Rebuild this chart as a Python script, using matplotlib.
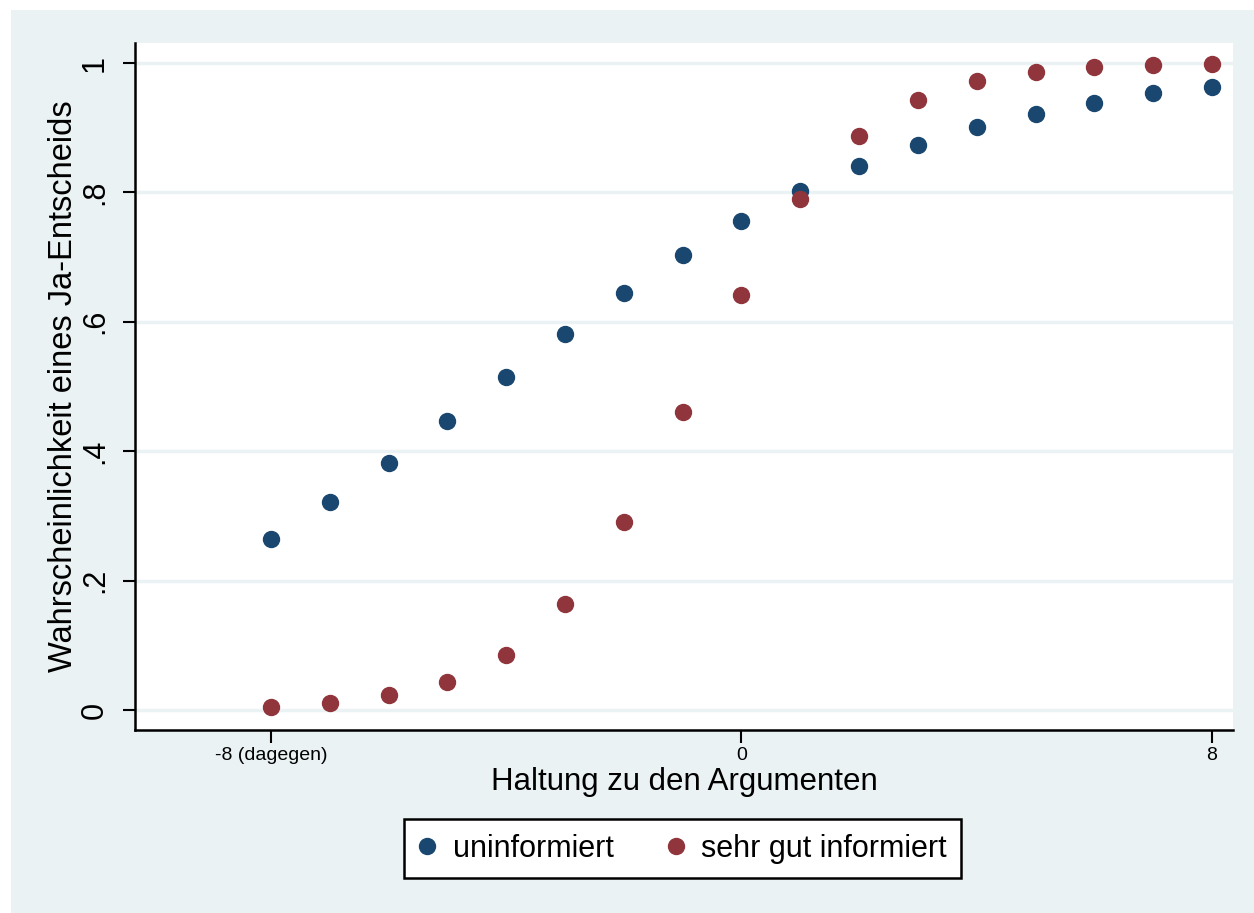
import matplotlib
matplotlib.use('Agg')
import matplotlib.pyplot as plt
from matplotlib.patches import Rectangle

plt.rcParams['font.family'] = ['Liberation Sans', 'DejaVu Sans']

haltung = list(range(-8, 9))
uninformiert = [0.264, 0.321, 0.382, 0.447, 0.515, 0.581, 0.645, 0.703, 0.756,
                0.802, 0.841, 0.873, 0.901, 0.921, 0.938, 0.954, 0.963]
gut_informiert = [0.005, 0.011, 0.023, 0.043, 0.085, 0.164, 0.291, 0.461, 0.641,
                  0.790, 0.887, 0.943, 0.972, 0.986, 0.994, 0.997, 0.998]
labels = ['uninformiert', 'sehr gut informiert']
x_ticks = [-8, 0, 8]
x_ticklabels = ['-8 (dagegen)', '0', '8']
y_ticks = [0, 0.2, 0.4, 0.6, 0.8, 1]
y_ticklabels = ['0', '.2', '.4', '.6', '.8', '1']

bg = '#EAF2F3'
blue = '#1A476F'
red = '#90353B'

fig = plt.figure(figsize=(12.54, 9.13), dpi=100)
fig.patches.append(Rectangle((11 / 1254, 0), 1, 1 - 10 / 913, transform=fig.transFigure,
                             facecolor=bg, edgecolor='none', zorder=-10))

ax = fig.add_axes([135 / 1254, 1 - 730 / 913, (1233 - 135) / 1254, (730 - 43) / 913])
ax.set_facecolor('white')

ax.plot(haltung, uninformiert, 'o', color=blue, markersize=11.5, label=labels[0], zorder=3)
ax.plot(haltung, gut_informiert, 'o', color=red, markersize=11.5, label=labels[1], zorder=3)

ax.set_xlim(-10.31, 8.357)
ax.set_ylim(-0.031, 1.031)

ax.set_xticks(x_ticks)
ax.set_xticklabels(x_ticklabels, fontsize=14)
ax.set_yticks(y_ticks)
ax.set_yticklabels(y_ticklabels, fontsize=22, rotation=90, va='center')
ax.tick_params(axis='both', length=9, width=1.5, color='black')
ax.tick_params(axis='y', pad=9)

ax.grid(axis='y', color=bg, linewidth=2.5)
ax.set_axisbelow(True)

for s in ['top', 'right']:
    ax.spines[s].set_visible(False)
for s in ['left', 'bottom']:
    ax.spines[s].set_linewidth(1.8)

ax.set_xlabel('Haltung zu den Argumenten', fontsize=22.5, labelpad=2)
ax.set_ylabel('Wahrscheinlichkeit eines Ja-Entscheids', fontsize=23.5, labelpad=1)

leg = fig.legend(loc='center', bbox_to_anchor=(682.5 / 1254, 1 - 848.5 / 913), ncol=2,
                 fontsize=22, fancybox=False, edgecolor='black', framealpha=1,
                 markerscale=1.0, handlelength=0.6, handletextpad=0.52,
                 columnspacing=1.75, borderpad=0.47)
leg.get_frame().set_linewidth(1.8)

fig.savefig('out.png', dpi=100)
